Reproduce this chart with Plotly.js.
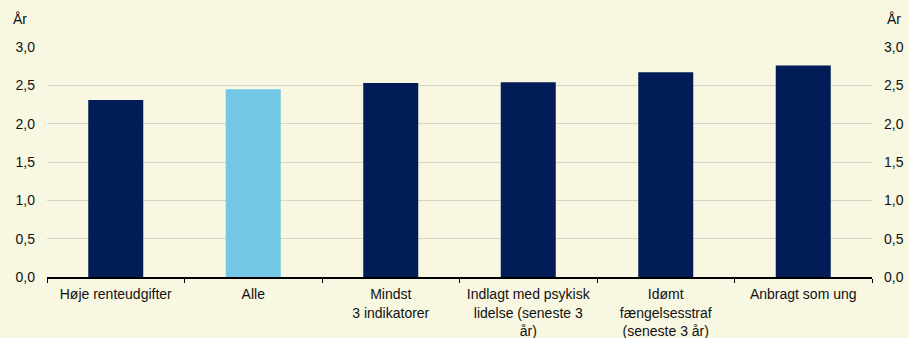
<!DOCTYPE html>
<html><head><meta charset="utf-8">
<script src="https://cdn.plot.ly/plotly-3.0.1.min.js"></script>
<style>html,body{margin:0;padding:0;background:#f8f7e1;}</style>
</head><body>
<div id="chart" style="width:909px;height:338px;"></div>
<script>
const categories = ["Høje renteudgifter", "Alle", "Mindst<br>3 indikatorer", "Indlagt med psykisk<br>lidelse (seneste 3<br>år)", "Idømt<br>fængelsesstraf<br>(seneste 3 år)", "Anbragt som ung"];
const values = [2.31, 2.45, 2.53, 2.54, 2.67, 2.76];
const barColors = ["#021c57", "#74c8e6", "#021c57", "#021c57", "#021c57", "#021c57"];
const tickVals = [0, 0.5, 1, 1.5, 2, 2.5, 3];
const tickText = ["0,0", "0,5", "1,0", "1,5", "2,0", "2,5", "3,0"];

const font = {family: "Liberation Sans, Arial, sans-serif", size: 14, color: "#111"};
const data = [
  {type: "bar", x: categories, y: values, marker: {color: barColors}, width: 0.4, hoverinfo: "skip"},
  {type: "bar", x: categories, y: values, yaxis: "y2", marker: {color: "rgba(0,0,0,0)"}, width: 0.4, hoverinfo: "skip", showlegend: false}
];
const layout = {
  width: 909, height: 338,
  margin: {l: 47, r: 37, t: 47, b: 61},
  paper_bgcolor: "#f8f7e1", plot_bgcolor: "#f8f7e1",
  font: font, showlegend: false, separators: ", ",
  barmode: "overlay",
  xaxis: {type: "category", showline: true, linecolor: "#000", linewidth: 1.5, ticks: "outside", tickson: "boundaries", ticklen: 4, tickcolor: "#000", tickfont: font, ticklabelstandoff: 4, showgrid: false, zeroline: false},
  yaxis: {range: [0, 3], tickvals: tickVals, ticktext: tickText, showgrid: true, gridcolor: "#d6d5c8", gridwidth: 1, zeroline: false, showline: false, ticks: "", tickfont: font, ticklabelstandoff: 11, fixedrange: true},
  yaxis2: {range: [0, 3], overlaying: "y", side: "right", tickvals: tickVals, ticktext: tickText, showgrid: false, zeroline: false, showline: false, ticks: "", tickfont: font, ticklabelstandoff: 11},
  annotations: [
    {text: "År", xref: "paper", yref: "paper", x: -0.044, y: 1.12, xanchor: "left", yanchor: "middle", showarrow: false, font: font},
    {text: "År", xref: "paper", yref: "paper", x: 1.016, y: 1.12, xanchor: "left", yanchor: "middle", showarrow: false, font: font}
  ]
};
Plotly.newPlot("chart", data, layout, {displayModeBar: false, staticPlot: true});
</script>
</body></html>
